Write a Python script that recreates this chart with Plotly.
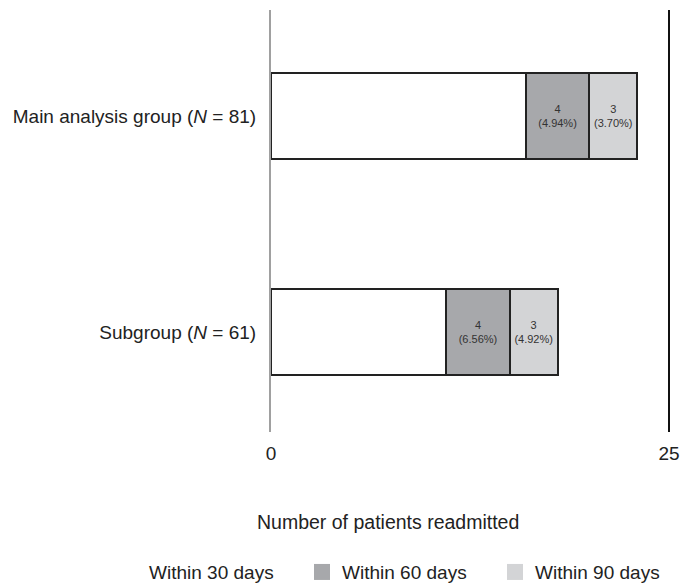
import plotly.graph_objects as go

categories = ["Main analysis group (<i>N</i> = 81)", "Subgroup (<i>N</i> = 61)"]
within30 = [16, 11]
within60 = [4, 4]
within90 = [3, 3]
pct60 = ["4.94%", "6.56%"]
pct90 = ["3.70%", "4.92%"]
series_names = ["Within 30 days", "Within 60 days", "Within 90 days"]
colors = ["#ffffff", "#a7a8ab", "#d3d4d6"]
x_title = "Number of patients readmitted"

FONT = "Liberation Sans, Arial, sans-serif"
fig = go.Figure()

lbl60 = [f"{v}<br>({p})" for v, p in zip(within60, pct60)]
lbl90 = [f"{v}<br>({p})" for v, p in zip(within90, pct90)]

for vals, col, name, txt in [
    (within30, colors[0], series_names[0], None),
    (within60, colors[1], series_names[1], lbl60),
    (within90, colors[2], series_names[2], lbl90),
]:
    fig.add_trace(go.Bar(
        y=categories, x=vals, orientation="h", name=name,
        marker=dict(color=col, line=dict(color="#222222", width=2)),
        text=txt, textposition="inside", insidetextanchor="middle",
        textfont=dict(size=11, color="#333333", family=FONT),
        width=0.4, showlegend=False, hoverinfo="skip",
    ))

# legend-only entries (square swatches without border)
for col, name in zip(colors, series_names):
    fig.add_trace(go.Scatter(
        x=[None], y=[None], mode="markers", name=name,
        marker=dict(symbol="square", size=16, color=col, line=dict(width=0)),
        showlegend=True,
    ))

fig.update_layout(
    barmode="stack",
    width=691, height=585,
    margin=dict(l=263, r=30, t=2, b=161, autoexpand=False),
    paper_bgcolor="white", plot_bgcolor="white",
    font=dict(family=FONT, size=19, color="#222222"),
    showlegend=True,
    legend=dict(orientation="h", x=-0.407, xanchor="left", y=-0.332, yanchor="middle",
                font=dict(size=19, color="#222222"), entrywidth=148, entrywidthmode="pixels",
                traceorder="normal", bgcolor="rgba(0,0,0,0)", itemsizing="trace"),
    shapes=[dict(type="line", xref="paper", yref="paper", x0=1, x1=1, y0=0, y1=1,
                 line=dict(color="#111111", width=2))],
    annotations=[dict(text=x_title, xref="paper", yref="paper", x=0.294, y=-0.213,
                      xanchor="center", yanchor="middle", showarrow=False,
                      font=dict(size=19.5, color="#222222"))],
)
fig.update_xaxes(range=[0, 25], tickvals=[0, 25], showgrid=False, zeroline=False,
                 showline=False, ticks="", tickfont=dict(size=19), ticklabelstandoff=8)
fig.update_yaxes(range=[1.463, -0.491], showgrid=False, zeroline=False, showline=True,
                 linecolor="#a0a0a0", linewidth=2, ticks="", tickfont=dict(size=19),
                 ticklabelstandoff=9)

fig.write_html("out.html")
